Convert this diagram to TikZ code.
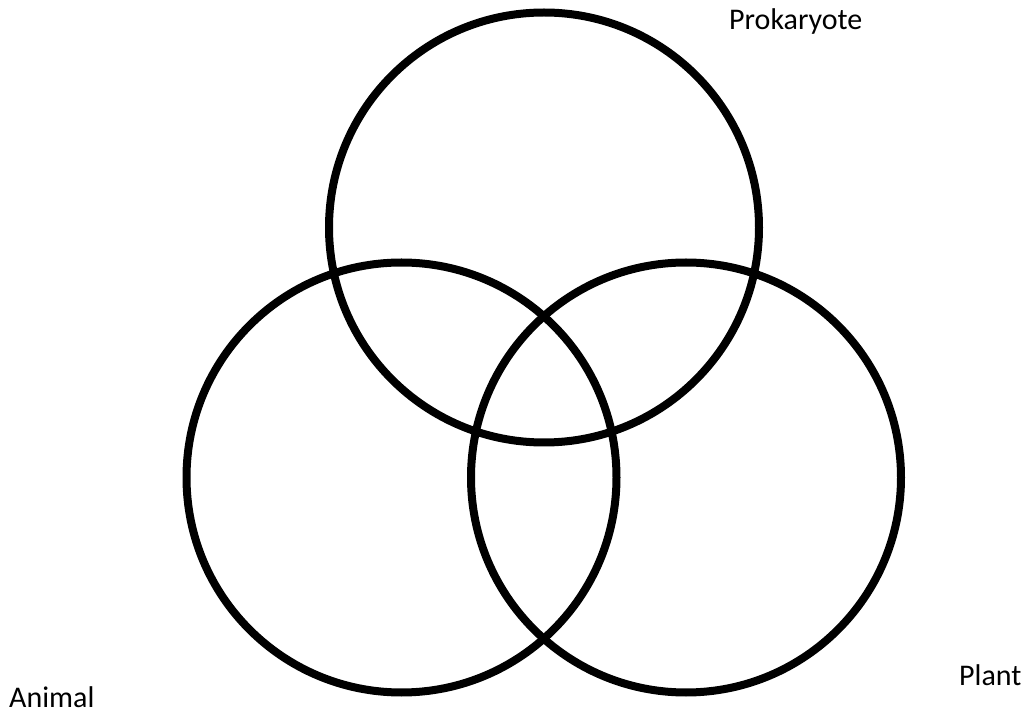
\documentclass[tikz,border=0pt]{standalone}
\usepackage{fontspec}
\setmainfont{Carlito}
\begin{document}
\begin{tikzpicture}[x=1pt,y=1pt,
  ring/.style={draw=black,line width=8pt,circle,minimum size=430pt,inner sep=0pt},
  lbl/.style={anchor=base west,inner sep=0pt,font=\fontsize{30}{36}\selectfont}]
\useasboundingbox (0,0) rectangle (1029,713);
\node[ring] (top) at (544,485.5) {};
\node[ring] (left) at (401.5,235.5) {};
\node[ring] (right) at (686,235.5) {};
\node[lbl] (prok) at (729,683) {Prokaryote};
\node[lbl] (plant) at (959,28) {Plant};
\node[lbl] (animal) at (9,6) {Animal};
\end{tikzpicture}
\end{document}
